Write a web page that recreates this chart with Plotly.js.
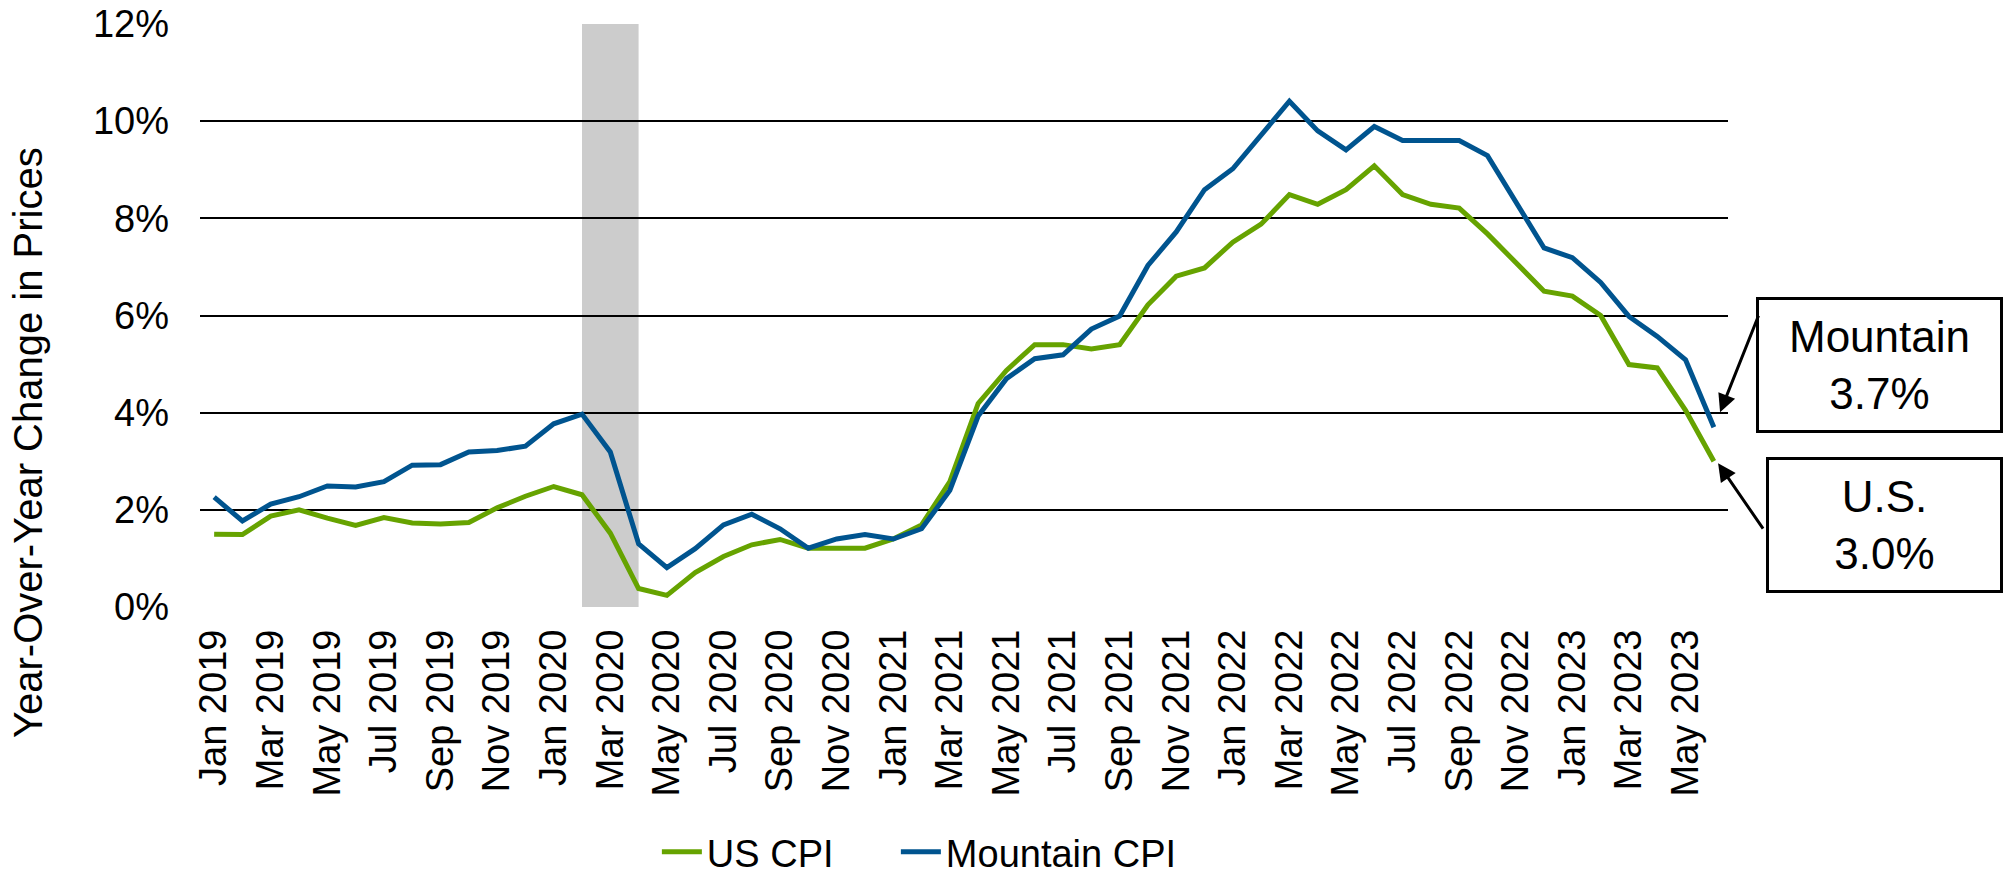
<!DOCTYPE html>
<html>
<head>
<meta charset="utf-8">
<script src="https://cdn.plot.ly/plotly-3.0.1.min.js"></script>
<style>html,body{margin:0;padding:0;background:#fff;}#chart{width:2009px;height:875px;}</style>
</head>
<body>
<div id="chart"></div>
<script>
var months = ["Jan 2019","Feb 2019","Mar 2019","Apr 2019","May 2019","Jun 2019","Jul 2019","Aug 2019","Sep 2019","Oct 2019","Nov 2019","Dec 2019",
  "Jan 2020","Feb 2020","Mar 2020","Apr 2020","May 2020","Jun 2020","Jul 2020","Aug 2020","Sep 2020","Oct 2020","Nov 2020","Dec 2020",
  "Jan 2021","Feb 2021","Mar 2021","Apr 2021","May 2021","Jun 2021","Jul 2021","Aug 2021","Sep 2021","Oct 2021","Nov 2021","Dec 2021",
  "Jan 2022","Feb 2022","Mar 2022","Apr 2022","May 2022","Jun 2022","Jul 2022","Aug 2022","Sep 2022","Oct 2022","Nov 2022","Dec 2022",
  "Jan 2023","Feb 2023","Mar 2023","Apr 2023","May 2023","Jun 2023"];

var tickLabels = ["Jan 2019","Mar 2019","May 2019","Jul 2019","Sep 2019","Nov 2019",
  "Jan 2020","Mar 2020","May 2020","Jul 2020","Sep 2020","Nov 2020",
  "Jan 2021","Mar 2021","May 2021","Jul 2021","Sep 2021","Nov 2021",
  "Jan 2022","Mar 2022","May 2022","Jul 2022","Sep 2022","Nov 2022",
  "Jan 2023","Mar 2023","May 2023"];

var usCPI = [1.50, 1.49, 1.87, 2.00, 1.83, 1.68, 1.84, 1.73, 1.71, 1.74, 2.04, 2.28,
  2.48, 2.31, 1.52, 0.38, 0.24, 0.71, 1.04, 1.28, 1.39, 1.21, 1.21, 1.21,
  1.40, 1.69, 2.58, 4.19, 4.87, 5.40, 5.40, 5.31, 5.40, 6.22, 6.81, 6.98,
  7.51, 7.88, 8.49, 8.29, 8.59, 9.08, 8.49, 8.29, 8.21, 7.68, 7.09, 6.50,
  6.40, 6.00, 4.99, 4.92, 4.05, 3.00];

var mountainCPI = [2.26, 1.77, 2.12, 2.27, 2.49, 2.47, 2.58, 2.92, 2.93, 3.19, 3.22, 3.31,
  3.77, 3.97, 3.19, 1.30, 0.81, 1.20, 1.69, 1.91, 1.61, 1.21, 1.40, 1.49,
  1.40, 1.61, 2.40, 3.93, 4.70, 5.11, 5.19, 5.72, 5.99, 7.03, 7.72, 8.59,
  9.02, 9.71, 10.41, 9.80, 9.41, 9.89, 9.60, 9.60, 9.60, 9.29, 8.33, 7.39,
  7.19, 6.68, 5.98, 5.57, 5.09, 3.70];

var yTicks = [0, 2, 4, 6, 8, 10, 12];
var yTickText = ["0%", "2%", "4%", "6%", "8%", "10%", "12%"];
var recessionStart = "Feb 2020";
var recessionEnd = "Apr 2020";
var lastUS = 3.0;
var lastMountain = 3.7;

var FONT = "Arial, 'Liberation Sans', sans-serif";
var GREEN = "#66A300";
var BLUE = "#00548F";

var traces = [
  {x: months, y: usCPI, type: "scatter", mode: "lines", name: "US CPI",
   legendwidth: 184, line: {color: GREEN, width: 5}},
  {x: months, y: mountainCPI, type: "scatter", mode: "lines", name: "Mountain CPI",
   line: {color: BLUE, width: 5}}
];

var layout = {
  width: 2009, height: 875,
  margin: {l: 200, r: 281, t: 24, b: 268},
  paper_bgcolor: "#fff", plot_bgcolor: "#fff",
  font: {family: FONT, color: "#000", size: 38},
  showlegend: true,
  legend: {orientation: "h", xref: "paper", x: 0.299, xanchor: "left",
           yref: "container", y: 0.0263, yanchor: "middle",
           font: {family: FONT, size: 38, color: "#000"}, itemwidth: 40,
           traceorder: "normal", bgcolor: "rgba(0,0,0,0)"},
  xaxis: {type: "category", categoryorder: "array", categoryarray: months,
          range: [-0.5, months.length - 0.5],
          tickvals: tickLabels, ticktext: tickLabels, tickangle: -90,
          ticks: "", ticklabelstandoff: 14, showgrid: false, zeroline: false, showline: false,
          automargin: false,
          tickfont: {family: FONT, size: 38, color: "#000"}, fixedrange: true},
  yaxis: {range: [0, 12], tickmode: "array", tickvals: yTicks, ticktext: yTickText, ticks: "",
          ticklabelstandoff: 30, automargin: false,
          showgrid: true, gridcolor: "#000", gridwidth: 2, zeroline: false, showline: false,
          tickfont: {family: FONT, size: 38, color: "#000"}, fixedrange: true},
  shapes: [
    {type: "rect", layer: "below", xref: "x", yref: "paper", x0: recessionStart, x1: recessionEnd,
     y0: 0, y1: 1, fillcolor: "#CCCCCC", line: {width: 0}}
  ],
  annotations: [
    {xref: "paper", yref: "paper", x: -0.1126, y: 0.283, xanchor: "center", yanchor: "middle",
     text: "Year-Over-Year Change in Prices",
     textangle: -90, showarrow: false, font: {family: FONT, size: 40, color: "#000"}},
    {xref: "paper", yref: "paper", x: 1.0991, y: 0.415, xanchor: "center", yanchor: "middle",
     text: "Mountain<br>" + lastMountain.toFixed(1) + "%", showarrow: false, align: "center",
     font: {family: FONT, size: 44, color: "#000"}, bordercolor: "#000", borderwidth: 3,
     borderpad: 0, width: 241, height: 130, bgcolor: "#fff"},
    {xref: "paper", yref: "paper", x: 1.1024, y: 0.1407, xanchor: "center", yanchor: "middle",
     text: "U.S.<br>" + lastUS.toFixed(1) + "%", showarrow: false, align: "center",
     font: {family: FONT, size: 44, color: "#000"}, bordercolor: "#000", borderwidth: 3,
     borderpad: 0, width: 231, height: 130, bgcolor: "#fff"},
    {xref: "x", yref: "y", x: months.length - 1 + 0.22, y: lastMountain + 0.31, text: "",
     showarrow: true, arrowhead: 2, arrowsize: 1.2, arrowwidth: 3, arrowcolor: "#000",
     ax: 39, ay: -98, standoff: 0, startstandoff: 0},
    {xref: "x", yref: "y", x: months.length - 1 + 0.15, y: lastUS - 0.04, text: "",
     showarrow: true, arrowhead: 2, arrowsize: 1.2, arrowwidth: 3, arrowcolor: "#000",
     ax: 46, ay: 67, standoff: 0, startstandoff: 0}
  ]
};

Plotly.newPlot("chart", traces, layout, {displayModeBar: false, staticPlot: true});
</script>
</body>
</html>
